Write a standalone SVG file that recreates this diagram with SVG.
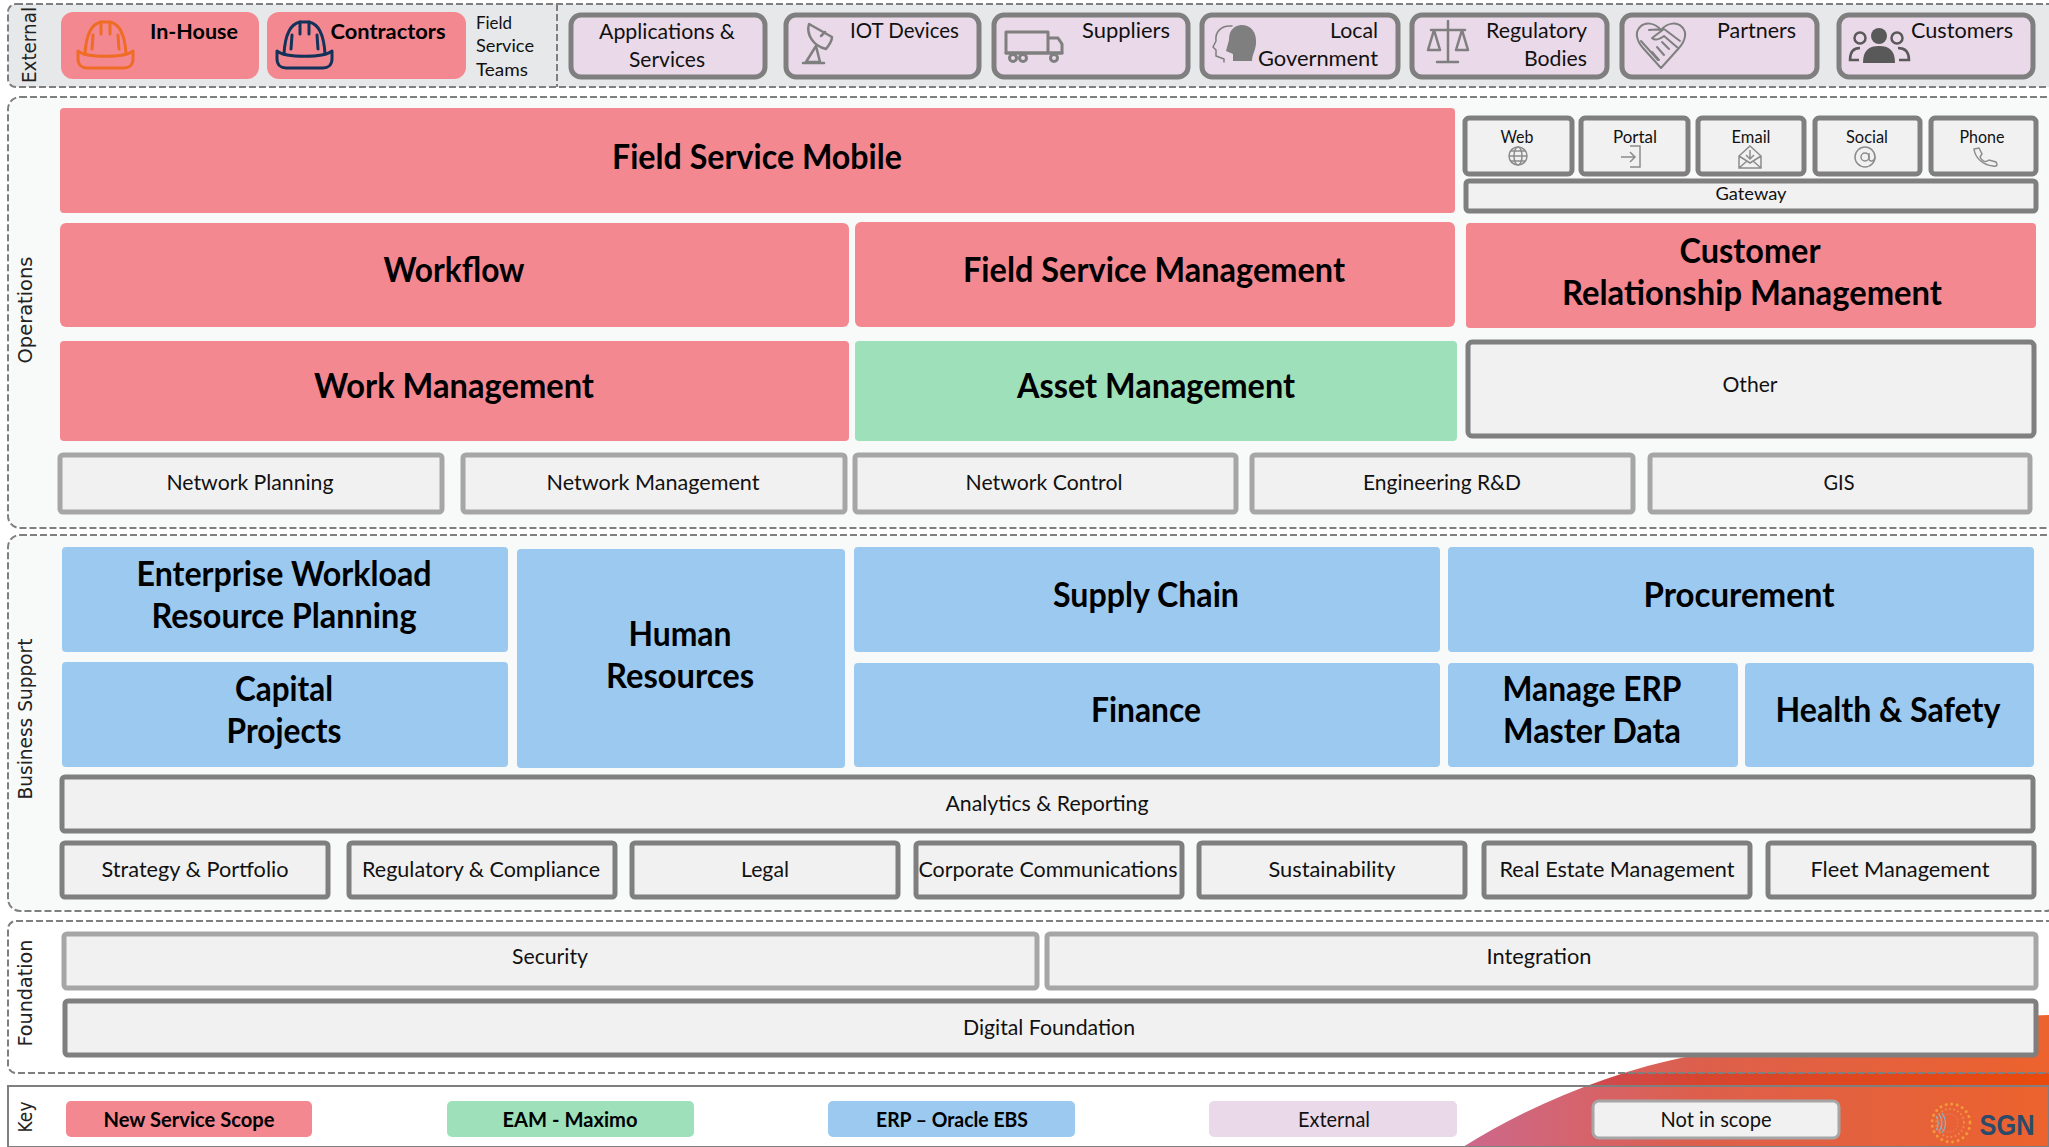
<svg xmlns="http://www.w3.org/2000/svg" width="2049" height="1147" viewBox="0 0 2049 1147">
<style>
text{font-family:"Lato","Carlito","Liberation Sans",sans-serif;fill:#111;text-anchor:middle}
.b{font-weight:700;font-size:34px;fill:#000}
.m{font-weight:700;font-size:21px;fill:#000}
.r{font-size:21px}
.s{font-size:18px}
.e{text-anchor:end}
.st{text-anchor:start}
.sec{font-family:"DejaVu Sans",sans-serif;font-size:20px;fill:#222}
.panel{fill:#f8faf9;stroke:#7f7f7f;stroke-width:2;stroke-dasharray:7 3}
.new{fill:#f48891}.eam{fill:#9de0b9}.erp{fill:#9bc9ef}
.ext{fill:#ead9e9;stroke:#7f7f7f;stroke-width:5}
.dk{fill:#f1f1f1;stroke:#7f7f7f;stroke-width:5}
.lt{fill:#f1f1f1;stroke:#a6a6a6;stroke-width:5}
.ic{fill:none;stroke:#7f7f7f;stroke-width:3;stroke-linejoin:round;stroke-linecap:round}
.th{fill:none;stroke:#8c8c8c;stroke-width:1.5}
</style>
<defs>
<linearGradient id="sw" x1="1463" y1="0" x2="2049" y2="0" gradientUnits="userSpaceOnUse">
<stop offset="0" stop-color="#c4507a"/><stop offset="0.4" stop-color="#d8452f"/><stop offset="1" stop-color="#ea4a0c"/>
</linearGradient>
<g id="helmet" fill="none" stroke-width="3" stroke-linejoin="round" stroke-linecap="round">
<path d="M8 33C9 15 14 3 24 1H33C43 3 48 15 49 33"/>
<path d="M1 30C10 37 47 37 56 30L56 38C56 44 52 47 47 47H10C5 47 1 44 1 38Z"/>
<path d="M24 1V13M33 1V13M16 14L15 28M41 14L42 28"/>
</g>
</defs>

<rect width="2049" height="1147" fill="#fff"/>
<path d="M1463 1147C1530 1105 1610 1072 1690 1056C1800 1035 1930 1020 2049 1015V1147Z" fill="url(#sw)"/>

<g id="panels">
<rect x="8" y="4" width="2050" height="83" rx="8" fill="#e7e8ea" stroke="#7f7f7f" stroke-width="2" stroke-dasharray="7 3"/>
<line x1="557" y1="4" x2="557" y2="87" stroke="#7f7f7f" stroke-width="2" stroke-dasharray="7 3"/>
<rect class="panel" x="8" y="97" width="2050" height="431" rx="12"/>
<rect class="panel" x="8" y="535" width="2050" height="376" rx="12"/>
<rect class="panel" x="8" y="921" width="2050" height="152" rx="8" style="fill:#fff;fill-opacity:.14"/>
<path d="M8 1147V1086H2049V1147Z" fill="#fff" fill-opacity=".14" stroke="#7f7f7f" stroke-width="2"/>
<text class="sec" transform="translate(36 45) rotate(-90)" textLength="76" lengthAdjust="spacingAndGlyphs">External</text>
<text class="sec" transform="translate(32 310) rotate(-90)" textLength="107" lengthAdjust="spacingAndGlyphs">Operations</text>
<text class="sec" transform="translate(32 719) rotate(-90)" textLength="161" lengthAdjust="spacingAndGlyphs">Business Support</text>
<text class="sec" transform="translate(32 993) rotate(-90)" textLength="107" lengthAdjust="spacingAndGlyphs">Foundation</text>
<text class="sec" transform="translate(32 1117) rotate(-90)" textLength="31" lengthAdjust="spacingAndGlyphs">Key</text>
</g>

<g id="connectors"></g>

<g id="in-house"><rect class="new" x="61" y="12" width="198" height="67" rx="12"/>
<use href="#helmet" x="77" y="21" stroke="#ee6c24"/>
<text class="m" x="194" y="39" textLength="88" lengthAdjust="spacingAndGlyphs">In-House</text></g>
<g id="contractors"><rect class="new" x="267" y="12" width="199" height="67" rx="12"/>
<use href="#helmet" x="276" y="21" stroke="#13325a"/>
<text class="m" x="388" y="39" textLength="115" lengthAdjust="spacingAndGlyphs">Contractors</text></g>
<g id="field-service-teams">
<text class="s st" x="476" y="29" textLength="36" lengthAdjust="spacingAndGlyphs">Field</text>
<text class="s st" x="476" y="52" textLength="58" lengthAdjust="spacingAndGlyphs">Service</text>
<text class="s st" x="476" y="76" textLength="52" lengthAdjust="spacingAndGlyphs">Teams</text></g>

<g id="applications"><rect class="ext" x="571" y="15" width="194" height="62" rx="10"/>
<text class="r" x="667" y="39" textLength="136" lengthAdjust="spacingAndGlyphs">Applications &amp;</text>
<text class="r" x="667" y="67" textLength="76" lengthAdjust="spacingAndGlyphs">Services</text></g>
<g id="iot"><rect class="ext" x="786" y="15" width="193" height="62" rx="10"/>
<path class="ic" d="M809 24C806 34 813 46 826 49C830 44 832 40 832 37ZM816 46L806 62H820L816 46M803 63H824M821 36L825 32" style="stroke-width:2.5"/>
<text class="r" x="904.500" y="38" textLength="109" lengthAdjust="spacingAndGlyphs">IOT Devices</text></g>
<g id="suppliers"><rect class="ext" x="994" y="15" width="194" height="62" rx="10"/>
<path class="ic" d="M1006 32H1048V53H1006ZM1049 38H1058L1062 44V53H1049" />
<path class="ic" d="M1006 53H1062"/><circle class="ic" cx="1013" cy="58" r="3.500"/><circle class="ic" cx="1023" cy="58" r="3.500"/><circle class="ic" cx="1054" cy="58" r="3.500"/>
<text class="r" x="1126" y="38" textLength="88" lengthAdjust="spacingAndGlyphs">Suppliers</text></g>
<g id="local-government"><rect class="ext" x="1202" y="15" width="196" height="62" rx="10"/>
<path class="ic" d="M1232 26C1220 25 1215 33 1216 41L1213 47L1216 50V56L1224 59V62" style="stroke-width:1.5"/>
<path d="M1241 25C1251 25 1257 32 1256 44C1255 52 1252 55 1252 61H1233V54L1226 51L1229 40C1229 30 1234 26 1241 25Z" fill="#7f7f7f"/>
<text class="r e" x="1378" y="38" textLength="48" lengthAdjust="spacingAndGlyphs">Local</text>
<text class="r e" x="1378" y="66" textLength="120" lengthAdjust="spacingAndGlyphs">Government</text></g>
<g id="regulatory"><rect class="ext" x="1412" y="15" width="195" height="62" rx="10"/>
<path class="ic" d="M1448 21V62M1437 62H1458M1431 30H1465M1434 30L1428 50H1440ZM1462 30L1456 50H1468Z" style="stroke-width:2.5"/>
<text class="r" x="1536.500" y="38" textLength="101" lengthAdjust="spacingAndGlyphs">Regulatory</text>
<text class="r e" x="1587" y="66" textLength="63" lengthAdjust="spacingAndGlyphs">Bodies</text></g>
<g id="partners"><rect class="ext" x="1622" y="15" width="195" height="62" rx="10"/>
<path class="ic" d="M1661 68L1643 48C1636 40 1635 32 1640 27C1645 22 1654 22 1661 30C1668 22 1677 22 1682 27C1687 32 1686 40 1679 48ZM1649 30L1664 29L1680 41M1664 29L1652 38C1655 41 1660 39 1664 36L1678 48M1641 41L1658 60M1662 42L1669 49M1657 47L1664 55M1652 52L1659 60" style="stroke-width:2"/>
<text class="r" x="1756.500" y="38" textLength="79" lengthAdjust="spacingAndGlyphs">Partners</text></g>
<g id="customers"><rect class="ext" x="1839" y="15" width="194" height="62" rx="10"/>
<circle cx="1879" cy="36" r="8" fill="#595959"/><path d="M1863 63C1863 50 1869 46 1879 46C1889 46 1895 50 1895 63Z" fill="#595959"/>
<circle cx="1860" cy="38" r="5.500" fill="none" stroke="#595959" stroke-width="2.500"/><circle cx="1897" cy="38" r="5.500" fill="none" stroke="#595959" stroke-width="2.500"/>
<path d="M1859 60H1850C1850 52 1853 48 1860 48M1899 60H1909C1909 52 1905 48 1898 48" fill="none" stroke="#595959" stroke-width="2.500"/>
<text class="r" x="1962" y="38" textLength="102" lengthAdjust="spacingAndGlyphs">Customers</text></g>

<g id="field-service-mobile"><rect class="new" x="60" y="108" width="1395" height="105" rx="4"/>
<text class="b" x="757" y="169" textLength="290" lengthAdjust="spacingAndGlyphs">Field Service Mobile</text></g>

<g id="web"><rect class="dk" x="1465" y="118" width="107" height="56" rx="4"/>
<text class="s" x="1517" y="143" textLength="33" lengthAdjust="spacingAndGlyphs">Web</text>
<g class="th"><circle cx="1518" cy="156" r="9"/><ellipse cx="1518" cy="156" rx="4" ry="9"/><path d="M1509 156H1527M1510 151H1526M1510 161H1526"/></g></g>
<g id="portal"><rect class="dk" x="1581" y="118" width="107" height="56" rx="4"/>
<text class="s" x="1635" y="143" textLength="44" lengthAdjust="spacingAndGlyphs">Portal</text>
<path class="th" d="M1630 146H1640V167H1630M1621 157H1634M1630 152L1635 157L1630 162"/></g>
<g id="email"><rect class="dk" x="1698" y="118" width="106" height="56" rx="4"/>
<text class="s" x="1751" y="143" textLength="39" lengthAdjust="spacingAndGlyphs">Email</text>
<path class="th" d="M1739 156L1750 146L1761 156V168H1739ZM1739 156L1750 163L1761 156M1739 168L1747 161M1761 168L1753 161M1750 150V159M1746 155L1750 159L1754 155"/></g>
<g id="social"><rect class="dk" x="1815" y="118" width="105" height="56" rx="4"/>
<text class="s" x="1867" y="143" textLength="42" lengthAdjust="spacingAndGlyphs">Social</text>
<circle class="th" cx="1865" cy="157" r="10"/><circle class="th" cx="1865" cy="157" r="4"/><path class="th" d="M1869 153V159C1869 162 1875 162 1875 157"/></g>
<g id="phone"><rect class="dk" x="1931" y="118" width="105" height="56" rx="4"/>
<text class="s" x="1982" y="143" textLength="45" lengthAdjust="spacingAndGlyphs">Phone</text>
<path class="th" d="M1974 149L1979 148L1982 154L1980 157C1982 161 1985 163 1989 160L1996 162C1998 165 1997 167 1993 166C1983 165 1975 158 1974 149Z"/></g>
<g id="gateway"><rect class="dk" x="1466" y="181" width="570" height="30" rx="3"/>
<text class="s" x="1751" y="200" textLength="71" lengthAdjust="spacingAndGlyphs">Gateway</text></g>

<g id="workflow"><rect class="new" x="60" y="223" width="789" height="104" rx="6"/>
<text class="b" x="454" y="282" textLength="141" lengthAdjust="spacingAndGlyphs">Workflow</text></g>
<g id="field-service-management"><rect class="new" x="855" y="222" width="600" height="105" rx="6"/>
<text class="b" x="1154" y="282" textLength="382" lengthAdjust="spacingAndGlyphs">Field Service Management</text></g>
<g id="crm"><rect class="new" x="1466" y="223" width="570" height="105" rx="4"/>
<text class="b" x="1750" y="263" textLength="141" lengthAdjust="spacingAndGlyphs">Customer</text>
<text class="b" x="1752" y="305" textLength="380" lengthAdjust="spacingAndGlyphs">Relationship Management</text></g>
<g id="work-management"><rect class="new" x="60" y="341" width="789" height="100" rx="4"/>
<text class="b" x="454" y="398" textLength="280" lengthAdjust="spacingAndGlyphs">Work Management</text></g>
<g id="asset-management"><rect class="eam" x="855" y="341" width="602" height="100" rx="4"/>
<text class="b" x="1156" y="398" textLength="278" lengthAdjust="spacingAndGlyphs">Asset Management</text></g>
<g id="other"><rect class="dk" x="1468" y="342" width="566" height="94" rx="4"/>
<text class="r" x="1750" y="392" textLength="55" lengthAdjust="spacingAndGlyphs">Other</text></g>

<g id="network-planning"><rect class="lt" x="60" y="455" width="382" height="57" rx="3"/><text class="r" x="250" y="490" textLength="167" lengthAdjust="spacingAndGlyphs">Network Planning</text></g>
<g id="network-management"><rect class="lt" x="463" y="455" width="382" height="57" rx="3"/><text class="r" x="653" y="490" textLength="213" lengthAdjust="spacingAndGlyphs">Network Management</text></g>
<g id="network-control"><rect class="lt" x="855" y="455" width="381" height="57" rx="3"/><text class="r" x="1044" y="490" textLength="157" lengthAdjust="spacingAndGlyphs">Network Control</text></g>
<g id="engineering"><rect class="lt" x="1252" y="455" width="381" height="57" rx="3"/><text class="r" x="1442" y="490" textLength="158" lengthAdjust="spacingAndGlyphs">Engineering R&amp;D</text></g>
<g id="gis"><rect class="lt" x="1650" y="455" width="380" height="57" rx="3"/><text class="r" x="1839" y="490" textLength="31" lengthAdjust="spacingAndGlyphs">GIS</text></g>

<g id="ewrp"><rect class="erp" x="62" y="547" width="446" height="105" rx="4"/>
<text class="b" x="284" y="586" textLength="295" lengthAdjust="spacingAndGlyphs">Enterprise Workload</text>
<text class="b" x="284" y="628" textLength="265" lengthAdjust="spacingAndGlyphs">Resource Planning</text></g>
<g id="capital-projects"><rect class="erp" x="62" y="662" width="446" height="105" rx="4"/>
<text class="b" x="284" y="701" textLength="98" lengthAdjust="spacingAndGlyphs">Capital</text>
<text class="b" x="284" y="743" textLength="115" lengthAdjust="spacingAndGlyphs">Projects</text></g>
<g id="human-resources"><rect class="erp" x="517" y="549" width="328" height="219" rx="4"/>
<text class="b" x="680" y="646" textLength="103" lengthAdjust="spacingAndGlyphs">Human</text>
<text class="b" x="680" y="688" textLength="148" lengthAdjust="spacingAndGlyphs">Resources</text></g>
<g id="supply-chain"><rect class="erp" x="854" y="547" width="586" height="105" rx="4"/>
<text class="b" x="1146" y="607" textLength="186" lengthAdjust="spacingAndGlyphs">Supply Chain</text></g>
<g id="procurement"><rect class="erp" x="1448" y="547" width="586" height="105" rx="4"/>
<text class="b" x="1739" y="607" textLength="191" lengthAdjust="spacingAndGlyphs">Procurement</text></g>
<g id="finance"><rect class="erp" x="854" y="663" width="586" height="104" rx="4"/>
<text class="b" x="1146" y="722" textLength="110" lengthAdjust="spacingAndGlyphs">Finance</text></g>
<g id="manage-erp"><rect class="erp" x="1448" y="663" width="290" height="104" rx="4"/>
<text class="b" x="1592" y="701" textLength="179" lengthAdjust="spacingAndGlyphs">Manage ERP</text>
<text class="b" x="1592" y="743" textLength="178" lengthAdjust="spacingAndGlyphs">Master Data</text></g>
<g id="health-safety"><rect class="erp" x="1745" y="663" width="289" height="104" rx="4"/>
<text class="b" x="1888" y="722" textLength="225" lengthAdjust="spacingAndGlyphs">Health &amp; Safety</text></g>

<g id="analytics"><rect class="dk" x="62" y="777" width="1971" height="54" rx="3"/><text class="r" x="1047" y="811" textLength="203" lengthAdjust="spacingAndGlyphs">Analytics &amp; Reporting</text></g>
<g id="strategy"><rect class="dk" x="62" y="843" width="266" height="54" rx="3"/><text class="r" x="195" y="877" textLength="187" lengthAdjust="spacingAndGlyphs">Strategy &amp; Portfolio</text></g>
<g id="regulatory-compliance"><rect class="dk" x="349" y="843" width="266" height="54" rx="3"/><text class="r" x="481" y="877" textLength="238" lengthAdjust="spacingAndGlyphs">Regulatory &amp; Compliance</text></g>
<g id="legal"><rect class="dk" x="632" y="843" width="266" height="54" rx="3"/><text class="r" x="765" y="877" textLength="48" lengthAdjust="spacingAndGlyphs">Legal</text></g>
<g id="corporate-comms"><rect class="dk" x="916" y="843" width="266" height="54" rx="3"/><text class="r" x="1048" y="877" textLength="259" lengthAdjust="spacingAndGlyphs">Corporate Communications</text></g>
<g id="sustainability"><rect class="dk" x="1199" y="843" width="266" height="54" rx="3"/><text class="r" x="1332" y="877" textLength="127" lengthAdjust="spacingAndGlyphs">Sustainability</text></g>
<g id="real-estate"><rect class="dk" x="1484" y="843" width="266" height="54" rx="3"/><text class="r" x="1617" y="877" textLength="235" lengthAdjust="spacingAndGlyphs">Real Estate Management</text></g>
<g id="fleet"><rect class="dk" x="1768" y="843" width="266" height="54" rx="3"/><text class="r" x="1900" y="877" textLength="179" lengthAdjust="spacingAndGlyphs">Fleet Management</text></g>

<g id="security"><rect class="lt" x="64" y="934" width="973" height="54" rx="3"/><text class="r" x="550" y="964" textLength="76" lengthAdjust="spacingAndGlyphs">Security</text></g>
<g id="integration"><rect class="lt" x="1047" y="934" width="989" height="54" rx="3"/><text class="r" x="1539" y="964" textLength="105" lengthAdjust="spacingAndGlyphs">Integration</text></g>
<g id="digital-foundation"><rect class="dk" x="65" y="1001" width="1971" height="54" rx="3"/><text class="r" x="1049" y="1035" textLength="172" lengthAdjust="spacingAndGlyphs">Digital Foundation</text></g>

<g id="key-new"><rect class="new" x="66" y="1101" width="246" height="36" rx="5"/><text class="m" x="189" y="1127" style="font-size:20px" textLength="171" lengthAdjust="spacingAndGlyphs">New Service Scope</text></g>
<g id="key-eam"><rect class="eam" x="447" y="1101" width="247" height="36" rx="5"/><text class="m" x="570" y="1127" style="font-size:20px" textLength="135" lengthAdjust="spacingAndGlyphs">EAM - Maximo</text></g>
<g id="key-erp"><rect class="erp" x="828" y="1101" width="247" height="36" rx="5"/><text class="m" x="952" y="1127" style="font-size:20px" textLength="152" lengthAdjust="spacingAndGlyphs">ERP – Oracle EBS</text></g>
<g id="key-external"><rect x="1209" y="1101" width="248" height="36" rx="5" fill="#ead9e9"/><text class="r" x="1334" y="1127" textLength="72" lengthAdjust="spacingAndGlyphs">External</text></g>
<g id="key-out"><rect x="1593" y="1101" width="246" height="37" rx="6" fill="#f1f1f1" stroke="#a6a6a6" stroke-width="3"/><text class="r" x="1716" y="1127" textLength="111" lengthAdjust="spacingAndGlyphs">Not in scope</text></g>

<g id="logo">
<circle cx="1951" cy="1123" r="19" fill="none" stroke="#f5983a" stroke-width="3" stroke-dasharray="0.100 5.500" stroke-linecap="round"/>
<circle cx="1950" cy="1123" r="14" fill="none" stroke="#f08a48" stroke-width="2" stroke-dasharray="0.100 4" stroke-linecap="round"/>
<circle cx="1949" cy="1123" r="9" fill="none" stroke="#e87a60" stroke-width="1.500" stroke-dasharray="0.100 3" stroke-linecap="round"/>
<path d="M1936 1116C1939 1120 1939 1126 1936 1130M1939 1114C1943 1120 1943 1126 1939 1132M1942 1113C1947 1120 1947 1126 1942 1133" fill="none" stroke="#8ab4c8" stroke-width="1.200"/>
<text x="2007" y="1135" style="font-family:'Liberation Sans',sans-serif;font-weight:700;font-size:29px;fill:#2c4a6a" textLength="55" lengthAdjust="spacingAndGlyphs">SGN</text>
</g>
</svg>
